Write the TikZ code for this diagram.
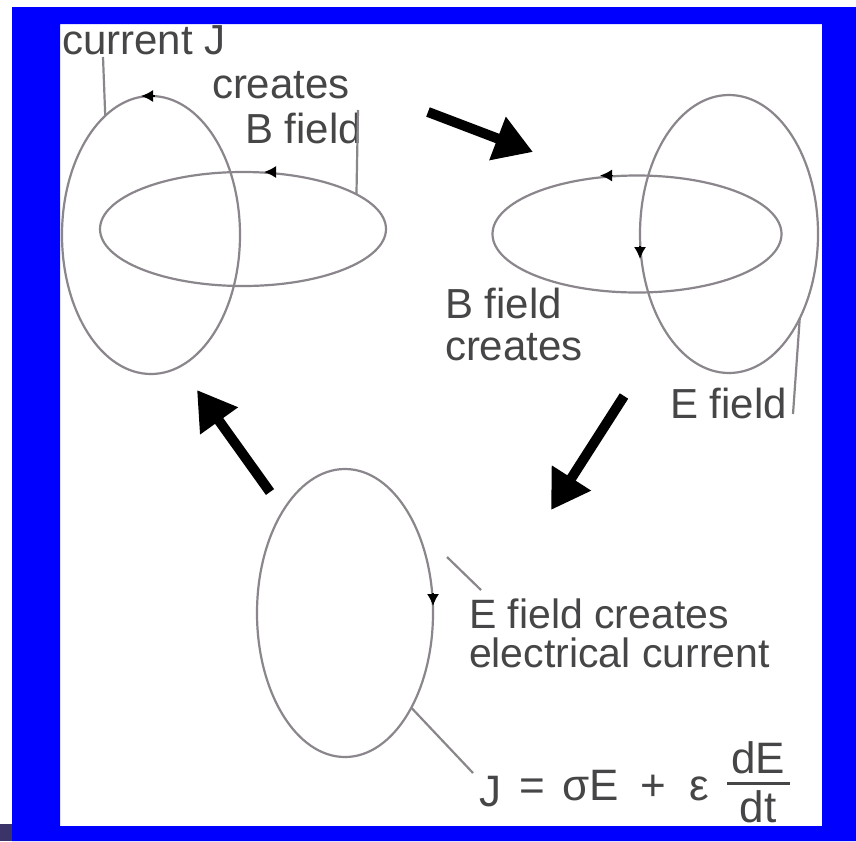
\documentclass[tikz,border=0pt]{standalone}
\usepackage{fontspec}
\setmainfont{Liberation Sans}
\usetikzlibrary{shapes.geometric,arrows.meta}
\definecolor{framebl}{RGB}{0,0,255}
\definecolor{loopgray}{RGB}{138,134,140}
\definecolor{labelgray}{RGB}{70,70,72}
\definecolor{cornersq}{RGB}{58,52,104}

\begin{document}
\begin{tikzpicture}[x=0.5pt,y=-0.5pt,
  loop/.style={ellipse, draw=loopgray, line width=1.1pt, inner sep=0pt, outer sep=0pt},
  lbl/.style={inner sep=0pt, outer sep=0pt, anchor=base west, text=labelgray,
              font=\fontsize{21}{25}\selectfont},
  fml/.style={inner sep=0pt, outer sep=0pt, anchor=base, text=labelgray,
              font=\fontsize{22}{26}\selectfont},
  leader/.style={draw=loopgray, line width=1.1pt},
  flow/.style={line width=5pt, -{Triangle[length=19pt,width=22pt]}},
  dirtip/.style={line width=0.8pt, -{Latex[length=6pt,width=6pt]}},
]
\useasboundingbox (0,0) rectangle (856,841);
\fill[white] (0,0) rectangle (856,841);

% current loop and the B field loop it creates
\node[loop, minimum width=89pt, minimum height=139pt] (ellA) at (151,235) {};
\node[loop, minimum width=143pt, minimum height=57pt] (ellB) at (243,229) {};

% B field loop and the E field loop it creates
\node[loop, minimum width=144.5pt, minimum height=58.5pt] (ellD) at (637,234) {};
\node[loop, minimum width=89pt, minimum height=139pt] (ellE) at (729,234) {};

% E field loop driving the current
\node[loop, minimum width=88pt, minimum height=144pt] (ellC) at (345,613) {};

% direction marks on the loops
\draw[dirtip] ([xshift=2pt]ellA.north) -- ([xshift=-5pt]ellA.north);
\draw[dirtip] ([xshift=16.5pt]ellB.north) -- ([xshift=10.5pt]ellB.north);
\draw[dirtip] ([xshift=-12pt]ellD.north) -- ([xshift=-18.5pt]ellD.north);
\draw[dirtip] ([yshift=-6pt]ellE.west) -- ([yshift=-12.5pt]ellE.west);
\draw[dirtip] ([yshift=10pt]ellC.east) -- ([yshift=3.5pt]ellC.east);

% labels
\node[lbl] (tCur) at (62,54) {current J};
\node[lbl] (tCreA) at (212,98) {creates};
\node[lbl] (tBfA) at (245,143) {B field};
\node[lbl] (tBfB) at (445,318) {B field};
\node[lbl] (tCreB) at (445,360) {creates};
\node[lbl] (tEf) at (670,418) {E field};
\node[lbl, align=left, font=\fontsize{20.5}{19.5}\selectfont] (tEfc) at (469,667)
  {E field creates\\electrical current};

% constitutive relation
\node[fml] (fJ) at (490,806) {J};
\node[fml] (fEq) at (532,800) {=};
\node[fml] (fSE) at (591,800) {σE};
\node[fml] (fPl) at (653,800) {+};
\node[fml] (fEp) at (699,800) {ε};
\node[fml] (fNum) at (758,773) {dE};
\node[fml] (fDen) at (758,822) {dt};
\draw[labelgray, line width=1.5pt] (727,783) -- (790,783);

% leader lines from labels to loops
\coordinate (cJ) at (103,57);
\draw[leader] (ellA.111) -- (cJ);
\coordinate (cB) at (358,110);
\draw[leader] (ellB.17) -- (cB);
\coordinate (cEf) at (793,414);
\draw[leader] (ellE.-50) -- (cEf);
\coordinate (cC1) at (447,557);
\coordinate (cC2) at (481,590);
\draw[leader] (cC1) -- (cC2);
\coordinate (cF) at (473,773);
\draw[leader] (ellC.-55) -- (cF);

% cycle arrows
\coordinate (a1s) at (428,112);
\coordinate (a1e) at (533,152);
\coordinate (a2s) at (624,396);
\coordinate (a2e) at (551,510);
\coordinate (a3s) at (270,492);
\coordinate (a3e) at (197,390);
\draw[flow] (a1s) -- (a1e);
\draw[flow] (a2s) -- (a2e);
\draw[flow] (a3s) -- (a3e);

% frame
\fill[framebl, even odd rule] (12,7) rectangle (856,841) (60,24) rectangle (822,826);
\fill[cornersq] (0,824) rectangle (12,841);
\end{tikzpicture}
\end{document}
